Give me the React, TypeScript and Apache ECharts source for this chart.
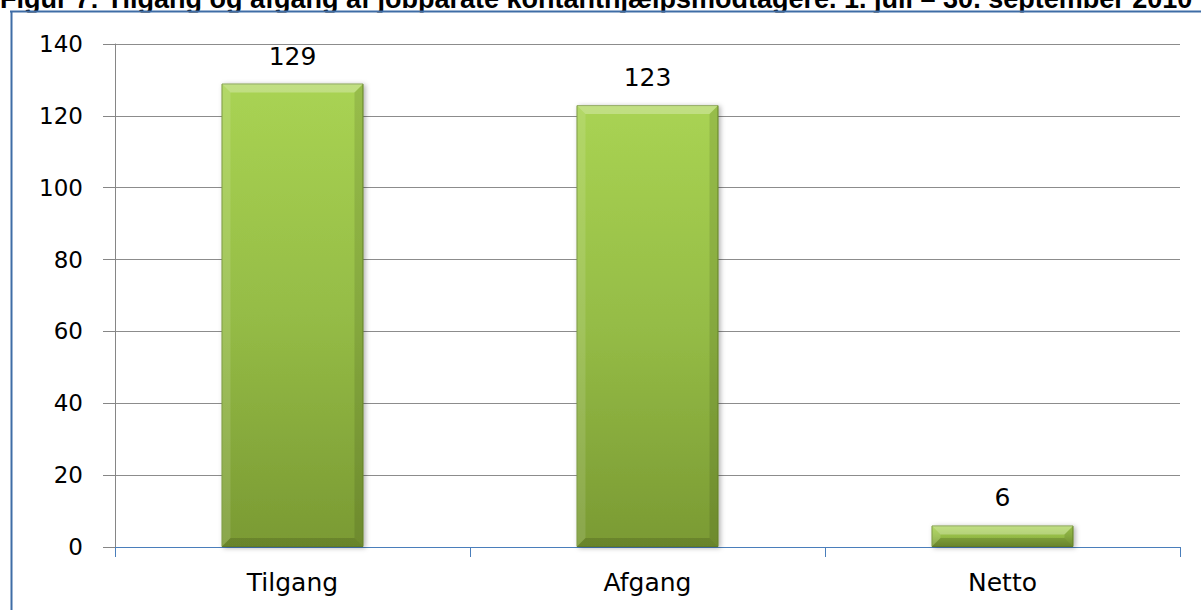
import React, { useEffect, useRef } from "react";
import * as echarts from "echarts";

const titleText =
  "Figur 7: Tilgang og afgang af jobparate kontanthjælpsmodtagere. 1. juli – 30. september 2010";
const categories = ["Tilgang", "Afgang", "Netto"];
const values = [129, 123, 6];
const yMin = 0;
const yMax = 140;
const yStep = 20;

const FONT = "DejaVu Sans";
const BAR_FRACTION = 0.4;

export default function App() {
  const ref = useRef<HTMLDivElement>(null);
  useEffect(() => {
    if (!ref.current) return;
    const chart = echarts.init(ref.current, undefined, { renderer: "svg" });
    const bevelData = values.map((v, i) => [i, v]);
    chart.setOption({
      animation: false,
      backgroundColor: "#ffffff",
      graphic: [
        {
          type: "text",
          x: 0,
          y: 12,
          style: {
            text: titleText,
            font: "bold 27px 'Liberation Sans', Arial, sans-serif",
            fill: "#000000",
            verticalAlign: "bottom",
          },
          z: 10,
        },
        {
          type: "rect",
          shape: { x: 0, y: 12.5, width: 1201, height: 10 },
          style: { fill: "#ffffff" },
          z: 10,
        },
        {
          type: "line",
          shape: { x1: 10, y1: 11.5, x2: 1201, y2: 11.5 },
          style: { stroke: "#3f6da6", lineWidth: 2 },
          z: 11,
        },
        {
          type: "line",
          shape: { x1: 11.5, y1: 11, x2: 11.5, y2: 610 },
          style: { stroke: "#3f6da6", lineWidth: 2 },
          z: 11,
        },
      ],
      grid: { left: 115, right: 21, top: 44, bottom: 63 },
      xAxis: {
        type: "category",
        data: categories,
        axisLine: { show: true, lineStyle: { color: "#4a7ebb", width: 1 } },
        axisTick: { show: true, length: 10, lineStyle: { color: "#4a7ebb" } },
        axisLabel: {
          fontFamily: FONT,
          fontSize: 25,
          color: "#000000",
          margin: 23,
        },
      },
      yAxis: {
        type: "value",
        min: yMin,
        max: yMax,
        interval: yStep,
        axisLine: { show: true, lineStyle: { color: "#868686", width: 1 } },
        axisTick: { show: true, length: 12, lineStyle: { color: "#868686" } },
        splitLine: { show: true, lineStyle: { color: "#8c8c8c", width: 1 } },
        axisLabel: {
          fontFamily: FONT,
          fontSize: 23,
          color: "#000000",
          margin: 32,
        },
      },
      series: [
        {
          type: "bar",
          data: values,
          barWidth: BAR_FRACTION * 100 + "%",
          z: 2,
          itemStyle: {
            color: new echarts.graphic.LinearGradient(0, 0, 0, 1, [
              { offset: 0, color: "#a9d353" },
              { offset: 0.5, color: "#95bc46" },
              { offset: 1, color: "#7a9a33" },
            ]),
            borderColor: "#6f8f2e",
            borderWidth: 1,
            shadowBlur: 5,
            shadowColor: "rgba(0,0,0,0.3)",
            shadowOffsetX: 2,
            shadowOffsetY: 1,
          },
          label: {
            show: true,
            position: "top",
            distance: 15,
            fontFamily: FONT,
            fontSize: 25,
            color: "#000000",
          },
        },
        {
          type: "custom",
          data: bevelData,
          encode: { x: 0, y: 1 },
          silent: true,
          z: 3,
          renderItem: (params: any, api: any) => {
            const idx = api.value(0);
            const val = api.value(1);
            const top = api.coord([idx, val]);
            const bot = api.coord([idx, 0]);
            const w = api.size([1, 0])[0] * BAR_FRACTION;
            const x0 = top[0] - w / 2;
            const x1 = top[0] + w / 2;
            const yT = top[1];
            const yB = bot[1];
            const b = Math.min(9, (yB - yT) / 2);
            return {
              type: "group",
              children: [
                {
                  type: "polygon",
                  shape: {
                    points: [
                      [x0, yT],
                      [x1, yT],
                      [x1 - b, yT + b],
                      [x0 + b, yT + b],
                    ],
                  },
                  style: { fill: "rgba(255,255,255,0.28)" },
                },
                {
                  type: "polygon",
                  shape: {
                    points: [
                      [x0, yT],
                      [x0 + b, yT + b],
                      [x0 + b, yB - b],
                      [x0, yB],
                    ],
                  },
                  style: { fill: "rgba(255,255,255,0.12)" },
                },
                {
                  type: "polygon",
                  shape: {
                    points: [
                      [x1, yT],
                      [x1, yB],
                      [x1 - b, yB - b],
                      [x1 - b, yT + b],
                    ],
                  },
                  style: { fill: "rgba(0,0,0,0.10)" },
                },
                {
                  type: "polygon",
                  shape: {
                    points: [
                      [x0, yB],
                      [x0 + b, yB - b],
                      [x1 - b, yB - b],
                      [x1, yB],
                    ],
                  },
                  style: { fill: "rgba(0,0,0,0.14)" },
                },
              ],
            };
          },
        },
      ],
    });
    return () => chart.dispose();
  }, []);
  return (
    <div
      ref={ref}
      style={{ position: "fixed", left: 0, top: 0, width: 1201, height: 610 }}
    />
  );
}
